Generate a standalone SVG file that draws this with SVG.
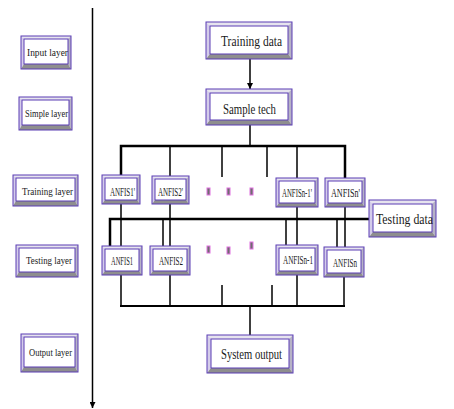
<svg xmlns="http://www.w3.org/2000/svg" width="454" height="409" viewBox="0 0 454 409">
<style>
.bt{fill:#E6E4EE}.bl{fill:#D4CCEA}.br{fill:#B6B2C6}.bb{fill:#8E8E8E}
.ol{fill:none;stroke:#5A3CB4;stroke-width:1}
.in{fill:#fff;stroke:#5A3CB4;stroke-width:1}
text{font-family:"Liberation Serif","DejaVu Serif",serif;fill:#1a1a1a;text-anchor:middle}
.big{font-size:14px}.sm{font-size:12px}.ly{font-size:11px}
.c{stroke:#000;stroke-width:1.5;fill:none}
.bus{stroke:#000;stroke-width:2.5;fill:none}
.dot{fill:#6E6E6E;stroke:#E070E0;stroke-width:1}
</style>
<defs>
<marker id="ah" viewBox="0 0 10 10" refX="10" refY="5" markerWidth="6" markerHeight="6" orient="auto" markerUnits="userSpaceOnUse">
<path d="M0,0 L10,5 L0,10 z" fill="#000"/>
</marker>
</defs>

<g id="connectors">
<line class="c" x1="92.5" y1="8" x2="92.5" y2="408" marker-end="url(#ah)"/>
<line class="c" x1="250" y1="59" x2="250" y2="89" marker-end="url(#ah)"/>
<line class="c" x1="250" y1="125" x2="250" y2="146"/>
<polyline class="bus" points="121,177 121,146 345,146 345,178"/>
<line class="c" x1="170" y1="146" x2="170" y2="176"/>
<line class="c" x1="222" y1="146" x2="222" y2="177"/>
<line class="c" x1="267" y1="146" x2="267" y2="177"/>
<line class="c" x1="297" y1="146" x2="297" y2="178"/>
<line class="c" x1="121" y1="204" x2="121" y2="246"/>
<line class="c" x1="170" y1="204" x2="170" y2="246"/>
<line class="c" x1="297" y1="207" x2="297" y2="245"/>
<line class="c" x1="345" y1="207" x2="345" y2="247"/>
<polyline class="bus" points="110,246 110,219 369,219"/>
<line class="c" x1="163" y1="219" x2="163" y2="246"/>
<line class="c" x1="286" y1="219" x2="286" y2="245"/>
<line class="c" x1="337" y1="219" x2="337" y2="247"/>
<line class="c" x1="121" y1="275" x2="121" y2="306"/>
<line class="c" x1="170" y1="275" x2="170" y2="306"/>
<line class="c" x1="297" y1="275" x2="297" y2="306"/>
<line class="c" x1="344" y1="277" x2="344" y2="306"/>
<line class="c" x1="222" y1="285" x2="222" y2="306"/>
<line class="c" x1="272" y1="285" x2="272" y2="306"/>
<line class="bus" x1="120" y1="306" x2="345" y2="306" style="stroke-width:2"/>
<line class="c" x1="250" y1="306" x2="250" y2="335"/>
</g>

<g id="dots">
<rect class="dot" x="207" y="188" width="3" height="7"/>
<rect class="dot" x="227" y="188" width="3" height="7"/>
<rect class="dot" x="250" y="188" width="3" height="7"/>
<rect class="dot" x="207" y="246" width="3" height="7"/>
<rect class="dot" x="227" y="247" width="3" height="7"/>
<rect class="dot" x="250" y="242" width="3" height="7"/>
</g>

<g id="input-layer">
<polygon class="bt" points="21,36 71,36 68,39 24,39"/><polygon class="bl" points="21,36 24,39 24,64 21,69"/><polygon class="br" points="71,36 71,69 68,64 68,39"/><polygon class="bb" points="21,69 24,64 68,64 71,69"/>
<rect class="in" x="24" y="39" width="44" height="25"/><rect class="ol" x="21" y="36" width="50" height="33"/>
<text class="ly" x="47.5" y="56" textLength="41" lengthAdjust="spacingAndGlyphs">Input layer</text>
</g>

<g id="simple-layer">
<polygon class="bt" points="19,97 72,97 69,100 22,100"/><polygon class="bl" points="19,97 22,100 22,125 19,130"/><polygon class="br" points="72,97 72,130 69,125 69,100"/><polygon class="bb" points="19,130 22,125 69,125 72,130"/>
<rect class="in" x="22" y="100" width="47" height="25"/><rect class="ol" x="19" y="97" width="53" height="33"/>
<text class="ly" x="46.5" y="117" textLength="43" lengthAdjust="spacingAndGlyphs">Simple layer</text>
</g>

<g id="training-layer">
<polygon class="bt" points="13,175 78,175 75,178 16,178"/><polygon class="bl" points="13,175 16,178 16,201 13,206"/><polygon class="br" points="78,175 78,206 75,201 75,178"/><polygon class="bb" points="13,206 16,201 75,201 78,206"/>
<rect class="in" x="16" y="178" width="59" height="23"/><rect class="ol" x="13" y="175" width="65" height="31"/>
<text class="ly" x="47.5" y="195" textLength="51" lengthAdjust="spacingAndGlyphs">Training layer</text>
</g>

<g id="testing-layer">
<polygon class="bt" points="16,245 78,245 75,248 19,248"/><polygon class="bl" points="16,245 19,248 19,272 16,277"/><polygon class="br" points="78,245 78,277 75,272 75,248"/><polygon class="bb" points="16,277 19,272 75,272 78,277"/>
<rect class="in" x="19" y="248" width="56" height="24"/><rect class="ol" x="16" y="245" width="62" height="32"/>
<text class="ly" x="49" y="264" textLength="46" lengthAdjust="spacingAndGlyphs">Testing layer</text>
</g>

<g id="output-layer">
<polygon class="bt" points="21,334 78,334 75,337 24,337"/><polygon class="bl" points="21,334 24,337 24,367 21,372"/><polygon class="br" points="78,334 78,372 75,367 75,337"/><polygon class="bb" points="21,372 24,367 75,367 78,372"/>
<rect class="in" x="24" y="337" width="51" height="30"/><rect class="ol" x="21" y="334" width="57" height="38"/>
<text class="ly" x="50.5" y="356" textLength="43" lengthAdjust="spacingAndGlyphs">Output layer</text>
</g>

<g id="training-data">
<polygon class="bt" points="206,22 292,22 288,26 210,26"/><polygon class="bl" points="206,22 210,26 210,54 206,59"/><polygon class="br" points="292,22 292,59 288,54 288,26"/><polygon class="bb" points="206,59 210,54 288,54 292,59"/>
<rect class="in" x="210" y="26" width="78" height="28"/><rect class="ol" x="206" y="22" width="86" height="37"/>
<text class="big" x="251.5" y="46" textLength="61" lengthAdjust="spacingAndGlyphs">Training data</text>
</g>

<g id="sample-tech">
<polygon class="bt" points="206,89 292,89 288,93 210,93"/><polygon class="bl" points="206,89 210,93 210,120 206,125"/><polygon class="br" points="292,89 292,125 288,120 288,93"/><polygon class="bb" points="206,125 210,120 288,120 292,125"/>
<rect class="in" x="210" y="93" width="78" height="27"/><rect class="ol" x="206" y="89" width="86" height="36"/>
<text class="big" x="249.5" y="113.5" textLength="53" lengthAdjust="spacingAndGlyphs">Sample tech</text>
</g>

<g id="anfis1p">
<polygon class="bt" points="102,175 140,175 137,178 105,178"/><polygon class="bl" points="102,175 105,178 105,200 102,204"/><polygon class="br" points="140,175 140,204 137,200 137,178"/><polygon class="bb" points="102,204 105,200 137,200 140,204"/>
<rect class="in" x="105" y="178" width="32" height="22"/><rect class="ol" x="102" y="175" width="38" height="29"/>
<text class="sm" x="122.5" y="196" textLength="25" lengthAdjust="spacingAndGlyphs">ANFIS1'</text>
</g>

<g id="anfis2p">
<polygon class="bt" points="152,176 189,176 186,179 155,179"/><polygon class="bl" points="152,176 155,179 155,200 152,204"/><polygon class="br" points="189,176 189,204 186,200 186,179"/><polygon class="bb" points="152,204 155,200 186,200 189,204"/>
<rect class="in" x="155" y="179" width="31" height="21"/><rect class="ol" x="152" y="176" width="37" height="28"/>
<text class="sm" x="170.5" y="196" textLength="25" lengthAdjust="spacingAndGlyphs">ANFIS2'</text>
</g>

<g id="anfisn1p">
<polygon class="bt" points="276,178 318,178 315,181 279,181"/><polygon class="bl" points="276,178 279,181 279,203 276,207"/><polygon class="br" points="318,178 318,207 315,203 315,181"/><polygon class="bb" points="276,207 279,203 315,203 318,207"/>
<rect class="in" x="279" y="181" width="36" height="22"/><rect class="ol" x="276" y="178" width="42" height="29"/>
<text class="sm" x="297" y="196.5" textLength="30" lengthAdjust="spacingAndGlyphs">ANFISn-1'</text>
</g>

<g id="anfisnp">
<polygon class="bt" points="325,178 365,178 362,181 328,181"/><polygon class="bl" points="325,178 328,181 328,203 325,207"/><polygon class="br" points="365,178 365,207 362,203 362,181"/><polygon class="bb" points="325,207 328,203 362,203 365,207"/>
<rect class="in" x="328" y="181" width="34" height="22"/><rect class="ol" x="325" y="178" width="40" height="29"/>
<text class="sm" x="345.5" y="196.5" textLength="29" lengthAdjust="spacingAndGlyphs">ANFISn'</text>
</g>

<g id="testing-data">
<polygon class="bt" points="369,200 436,200 432,204 373,204"/><polygon class="bl" points="369,200 373,204 373,232 369,237"/><polygon class="br" points="436,200 436,237 432,232 432,204"/><polygon class="bb" points="369,237 373,232 432,232 436,237"/>
<rect class="in" x="373" y="204" width="59" height="28"/><rect class="ol" x="369" y="200" width="67" height="37"/>
<text class="big" x="404.5" y="223.5" textLength="57" lengthAdjust="spacingAndGlyphs">Testing data</text>
</g>

<g id="anfis1">
<polygon class="bt" points="102,246 142,246 139,249 105,249"/><polygon class="bl" points="102,246 105,249 105,271 102,275"/><polygon class="br" points="142,246 142,275 139,271 139,249"/><polygon class="bb" points="102,275 105,271 139,271 142,275"/>
<rect class="in" x="105" y="249" width="34" height="22"/><rect class="ol" x="102" y="246" width="40" height="29"/>
<text class="sm" x="122" y="265" textLength="22" lengthAdjust="spacingAndGlyphs">ANFIS1</text>
</g>

<g id="anfis2">
<polygon class="bt" points="150,246 190,246 187,249 153,249"/><polygon class="bl" points="150,246 153,249 153,271 150,275"/><polygon class="br" points="190,246 190,275 187,271 187,249"/><polygon class="bb" points="150,275 153,271 187,271 190,275"/>
<rect class="in" x="153" y="249" width="34" height="22"/><rect class="ol" x="150" y="246" width="40" height="29"/>
<text class="sm" x="171" y="265" textLength="24" lengthAdjust="spacingAndGlyphs">ANFIS2</text>
</g>

<g id="anfisn1">
<polygon class="bt" points="276,245 318,245 315,248 279,248"/><polygon class="bl" points="276,245 279,248 279,271 276,275"/><polygon class="br" points="318,245 318,275 315,271 315,248"/><polygon class="bb" points="276,275 279,271 315,271 318,275"/>
<rect class="in" x="279" y="248" width="36" height="23"/><rect class="ol" x="276" y="245" width="42" height="30"/>
<text class="sm" x="298" y="264" textLength="30" lengthAdjust="spacingAndGlyphs">ANFISn-1</text>
</g>

<g id="anfisn">
<polygon class="bt" points="324,247 364,247 361,250 327,250"/><polygon class="bl" points="324,247 327,250 327,273 324,277"/><polygon class="br" points="364,247 364,277 361,273 361,250"/><polygon class="bb" points="324,277 327,273 361,273 364,277"/>
<rect class="in" x="327" y="250" width="34" height="23"/><rect class="ol" x="324" y="247" width="40" height="30"/>
<text class="sm" x="345" y="266.5" textLength="24" lengthAdjust="spacingAndGlyphs">ANFISn</text>
</g>

<g id="system-output">
<polygon class="bt" points="207,335 293,335 289,339 211,339"/><polygon class="bl" points="207,335 211,339 211,368 207,373"/><polygon class="br" points="293,335 293,373 289,368 289,339"/><polygon class="bb" points="207,373 211,368 289,368 293,373"/>
<rect class="in" x="211" y="339" width="78" height="29"/><rect class="ol" x="207" y="335" width="86" height="38"/>
<text class="big" x="251.5" y="359" textLength="61" lengthAdjust="spacingAndGlyphs">System output</text>
</g>
</svg>
